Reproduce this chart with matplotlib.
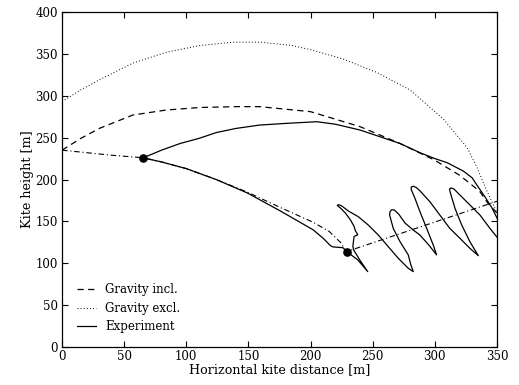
import matplotlib
matplotlib.use("Agg")
import matplotlib.pyplot as plt

plt.rcParams['font.family'] = ['DejaVu Serif']
plt.rcParams['mathtext.fontset'] = 'dejavuserif'

# Gravity excluded (dotted)
excl_x = [0, 15, 30, 57, 84, 111, 138, 160, 185, 200, 226, 253, 280, 307, 326, 334, 342, 348, 350]
excl_y = [293, 307, 319, 339, 352, 360, 364, 364, 360, 355, 344, 328, 307, 272, 238, 214, 186, 167, 160]

# Gravity included (dashed)
incl_x = [0, 15, 30, 57, 84, 111, 140, 159, 200, 240, 272, 300, 320, 336, 343, 350]
incl_y = [235, 249, 261, 277, 283, 286, 287, 287, 281, 263, 243, 223, 205, 186, 171, 160]

# Experiment, upper branch (solid)
exp_up_x = [65, 72, 80, 95, 110, 124, 140, 159, 180, 205, 220, 240, 256, 272, 288, 300, 310,
            323, 330, 334, 340, 346, 350]
exp_up_y = [226, 230, 235, 243, 249, 256, 261, 265, 267, 269, 266, 259, 251, 243, 232, 225, 220,
            210, 202, 193, 180, 166, 154]

# Experiment, lower branch with loops (solid)
exp_lo_x = [65, 80, 100, 124, 149, 175, 202, 210, 216, 218, 226, 229, 238, 246,
            240, 235, 234, 235, 238, 236, 235, 232, 228, 224, 221.5, 222.5,
            225, 230.4, 238.4, 246.4, 254.5, 262.5, 270.6, 278.6, 282.6,
            280.5, 278.6, 272, 266.5, 263.6, 264, 265.5, 267.5,
            271, 276, 282.6, 288, 295, 301.4,
            298.7, 293.4, 288, 284, 281, 281, 282.5, 285,
            288, 296, 304, 312, 320.2, 328.2, 335,
            328.2, 321.6, 316.2, 312.5, 311.8, 313, 315.5,
            318.8, 328.2, 336.3, 344.3, 349.7, 352]
exp_lo_y = [226, 221, 213, 200, 184, 163, 140, 130, 121, 119.5, 118.6, 114, 104, 90,
            103, 115, 120, 132, 134, 139, 144, 152, 160, 166, 169, 170,
            168.5, 162.4, 155.6, 145.7, 133.7, 119.8, 105.9, 94, 90,
            99, 110, 125.7, 141.7, 157.6, 162, 164, 163.5,
            158.5, 148, 139.7, 133.7, 122, 110,
            121.8, 141.7, 161.6, 177.5, 188, 191, 192, 190.5,
            186.5, 173.5, 157.6, 141.7, 129.8, 117.8, 109,
            125.7, 145.7, 165.6, 184, 188.5, 190, 188.5,
            183.5, 169.6, 157.6, 141.7, 131.7, 128]

# Dash-dot reference path
dd_x = [0, 20, 40, 65, 80, 100, 124, 149, 175, 202, 215, 224, 229, 350]
dd_y = [235, 232, 229, 226, 221, 213, 200, 185, 167, 149, 138, 125, 114, 174]

# Marker points
mark_x = [65, 229]
mark_y = [226, 113]

fig = plt.figure(figsize=(5.19, 3.85), dpi=100)
ax = fig.add_axes([0.1195, 0.0987, 0.8381, 0.8701])

lw = 0.9
ax.plot(incl_x, incl_y, color='black', lw=lw, linestyle=(0, (5, 3.5)), label='Gravity incl.')
ax.plot(excl_x, excl_y, color='black', lw=0.7, linestyle=(0, (1, 2.2)), label='Gravity excl.')
ax.plot(exp_up_x, exp_up_y, color='black', lw=lw, label='Experiment')
ax.plot(exp_lo_x, exp_lo_y, color='black', lw=lw)
ax.plot(dd_x, dd_y, color='black', lw=0.8, linestyle=(0, (5, 2.5, 1, 2.5)))
ax.plot(mark_x, mark_y, 'o', color='black', markersize=5.2)

ax.set_xlim(0, 350)
ax.set_ylim(0, 400)
ax.set_xticks(range(0, 351, 50))
ax.set_yticks(range(0, 401, 50))
ax.tick_params(direction='in', top=True, right=True, length=4, width=0.8, labelsize=8.5, pad=3)
ax.tick_params(axis='x', pad=2)
for s in ax.spines.values():
    s.set_linewidth(0.9)

ax.set_xlabel('Horizontal kite distance [m]', fontsize=9.2, labelpad=0)
ax.set_ylabel('Kite height [m]', fontsize=9.2, labelpad=1)

leg = ax.legend(loc='lower left', bbox_to_anchor=(0.01, 0.01), frameon=False, fontsize=8.5,
                handlelength=1.6, handletextpad=0.8, labelspacing=0.45)

fig.savefig('out.png', dpi=100)
